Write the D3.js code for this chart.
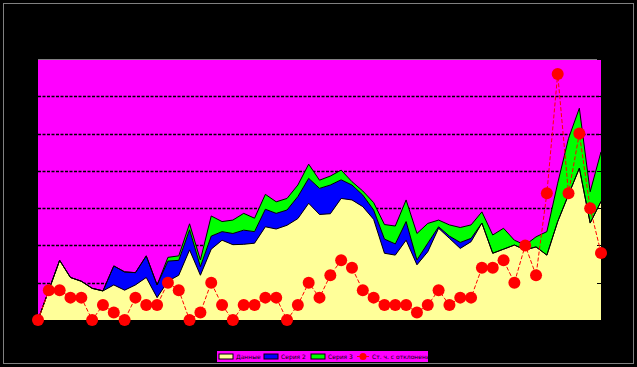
<!DOCTYPE html>
<html>
<head>
<meta charset="utf-8">
<script src="https://cdn.jsdelivr.net/npm/d3@7"></script>
<style>
  html, body { margin: 0; padding: 0; background: #000000; }
  svg { display: block; }
</style>
</head>
<body>
<div id="container"></div>
<script>
// weekly data, 53 points
const weeks = d3.range(1, 54);
const seriesNames = ['Данные', 'Серия 2', 'Серия 3', 'Ст. ч. с отклонением'];

const yellowVals = [
    0, 4.0, 8.0, 5.7, 5.2, 4.25, 3.9, 4.7, 4.0, 4.7,
    5.7, 3.0, 5.2, 6.0, 9.4, 6.0, 9.5, 10.7, 10.1, 10.15,
    10.3, 12.5, 12.2, 12.7, 13.6, 15.65, 14.15, 14.25, 16.3, 16.1,
    15.2, 13.5, 8.95, 8.7, 10.7, 7.4, 9.15, 12.3, 10.95, 9.6,
    10.5, 13.0, 8.95, 9.5, 10.05, 9.4, 9.8, 8.7, 13.2, 16.8,
    20.35, 13.0, 15.9
];
const blueVals = [
    0, 0, 0, 0, 0, 0, 0, 2.55, 2.45, 1.65,
    2.9, 1.7, 2.7, 2.0, 2.7, 1.15, 1.75, 1.15, 1.5, 1.9,
    1.55, 2.35, 2.1, 2.05, 2.95, 3.35, 3.5, 3.85, 2.5, 2.0,
    1.55, 1.25, 1.9, 1.5, 2.5, 0.65, 1.15, 0.2, 0.3, 0.8,
    0.45, 0, 0, 0, 0, 0, 0, 0, 0, 0,
    0, 0, 0
];
const greenVals = [
    0, 0, 0, 0, 0, 0, 0, 0, 0, 0,
    0, 0, 0.5, 0.6, 0.8, 0.9, 2.7, 1.35, 1.8, 2.25,
    1.8, 2.0, 1.55, 1.55, 1.55, 1.9, 1.1, 1.2, 1.3, 0.45,
    0.55, 1.0, 1.95, 2.4, 2.9, 3.55, 2.65, 0.9, 1.5, 2.0,
    1.8, 1.5, 2.45, 2.8, 0.65, 0.65, 1.35, 3.15, 5.15, 7.55,
    8.05, 4.2, 6.65
];
const redVals = [
    0, 4, 4, 3, 3, 0, 2, 1, 0, 3,
    2, 2, 5, 4, 0, 1, 5, 2, 0, 2,
    2, 3, 3, 0, 2, 5, 3, 6, 8, 7,
    4, 3, 2, 2, 2, 1, 2, 4, 2, 3,
    3, 7, 7, 8, 5, 10, 6, 17, 33, 17,
    25, 15, 9
];
const yTicks = [0, 5, 10, 15, 20, 25, 30, 35];

const W = 637, H = 367;
const plot = {left: 38, right: 601, top: 59, bottom: 320};

const svg = d3.select('#container')
    .append('svg')
    .attr('width', W)
    .attr('height', H)
    .style('background-color', '#000000');

// outer frame
svg.append('rect')
    .attr('x', 3.5).attr('y', 3.5)
    .attr('width', W - 7).attr('height', H - 7)
    .attr('fill', 'none')
    .attr('stroke', '#808080')
    .attr('stroke-width', 1);

const x = d3.scaleLinear()
    .domain([0, weeks.length - 1])
    .range([plot.left, plot.right]);
const y = d3.scaleLinear()
    .domain([0, 35])
    .range([plot.bottom, plot.top]);

// plot background
svg.append('rect')
    .attr('x', plot.left).attr('y', plot.top)
    .attr('width', plot.right - plot.left)
    .attr('height', plot.bottom - plot.top)
    .attr('fill', '#FF00FF');

// gridlines
svg.append('g')
    .selectAll('line')
    .data(yTicks.slice(1, -1))
    .join('line')
    .attr('x1', plot.left).attr('x2', plot.right)
    .attr('y1', d => Math.round(y(d)) + 0.5)
    .attr('y2', d => Math.round(y(d)) + 0.5)
    .attr('stroke', '#000000')
    .attr('stroke-width', 1.5)
    .attr('stroke-dasharray', '3,1.5');

// top edge
svg.append('line')
    .attr('x1', plot.left).attr('x2', plot.right)
    .attr('y1', plot.top + 0.5).attr('y2', plot.top + 0.5)
    .attr('stroke', '#808080');

// stacked areas
const table = weeks.map((w, i) => ({
    week: w,
    yellow: yellowVals[i],
    blue: blueVals[i],
    green: greenVals[i]
}));
const keys = ['yellow', 'blue', 'green'];
const colors = {yellow: '#FFFF99', blue: '#0000FF', green: '#00FF00'};
const stack = d3.stack().keys(keys)(table);

const area = d3.area()
    .x((d, i) => x(i))
    .y0(d => y(d[0]))
    .y1(d => y(d[1]));
const topLine = d3.line()
    .x((d, i) => x(i))
    .y(d => y(d[1]));

// draw top-most first so lower layers sit on top of the outlines
stack.forEach(layer => {
    svg.append('path')
        .datum(layer)
        .attr('d', area)
        .attr('fill', colors[layer.key]);
});
stack.forEach(layer => {
    svg.append('path')
        .datum(layer)
        .attr('d', topLine)
        .attr('fill', 'none')
        .attr('stroke', '#000000')
        .attr('stroke-width', 1);
});

// right axis ticks
svg.append('g')
    .selectAll('line')
    .data(yTicks)
    .join('line')
    .attr('x1', plot.right - 4).attr('x2', plot.right)
    .attr('y1', d => Math.round(y(d)) + 0.5)
    .attr('y2', d => Math.round(y(d)) + 0.5)
    .attr('stroke', '#000000');

// bottom axis line
svg.append('line')
    .attr('x1', plot.left).attr('x2', plot.right)
    .attr('y1', plot.bottom + 1).attr('y2', plot.bottom + 1)
    .attr('stroke', '#000000')
    .attr('stroke-width', 2);

// red line with markers
const redLine = d3.line()
    .x((d, i) => x(i))
    .y(d => y(d));
svg.append('path')
    .datum(redVals)
    .attr('d', redLine)
    .attr('fill', 'none')
    .attr('stroke', '#FF0000')
    .attr('stroke-width', 1)
    .attr('stroke-dasharray', '4,2');
svg.append('g')
    .selectAll('circle')
    .data(redVals)
    .join('circle')
    .attr('cx', (d, i) => x(i))
    .attr('cy', d => y(d))
    .attr('r', 6)
    .attr('fill', '#FF0000');

// legend
const legend = svg.append('g')
    .style('transform', 'translate(216px, 350px)');
legend.append('rect')
    .attr('x', 0.5).attr('y', 0.5)
    .attr('width', 212).attr('height', 12)
    .attr('fill', '#FF00FF')
    .attr('stroke', '#000000');
const legendX = [3, 48, 95, 141];
keys.forEach((k, i) => {
    legend.append('rect')
        .attr('x', legendX[i]).attr('y', 4)
        .attr('width', 14).attr('height', 5)
        .attr('fill', colors[k])
        .attr('stroke', '#000000')
        .attr('stroke-width', 1);
    legend.append('text')
        .text(seriesNames[i])
        .attr('x', legendX[i] + 17).attr('y', 9)
        .style('font-family', 'DejaVu Sans')
        .style('font-size', '6px')
        .style('fill', '#000000');
});
legend.append('line')
    .attr('x1', legendX[3]).attr('x2', legendX[3] + 12)
    .attr('y1', 6.5).attr('y2', 6.5)
    .attr('stroke', '#FF0000');
legend.append('circle')
    .attr('cx', legendX[3] + 6).attr('cy', 6.5)
    .attr('r', 3.5)
    .attr('fill', '#FF0000');
legend.append('text')
    .text(seriesNames[3])
    .attr('x', legendX[3] + 15).attr('y', 9)
    .style('font-family', 'DejaVu Sans')
    .style('font-size', '6px')
    .style('fill', '#000000');
</script>
</body>
</html>
